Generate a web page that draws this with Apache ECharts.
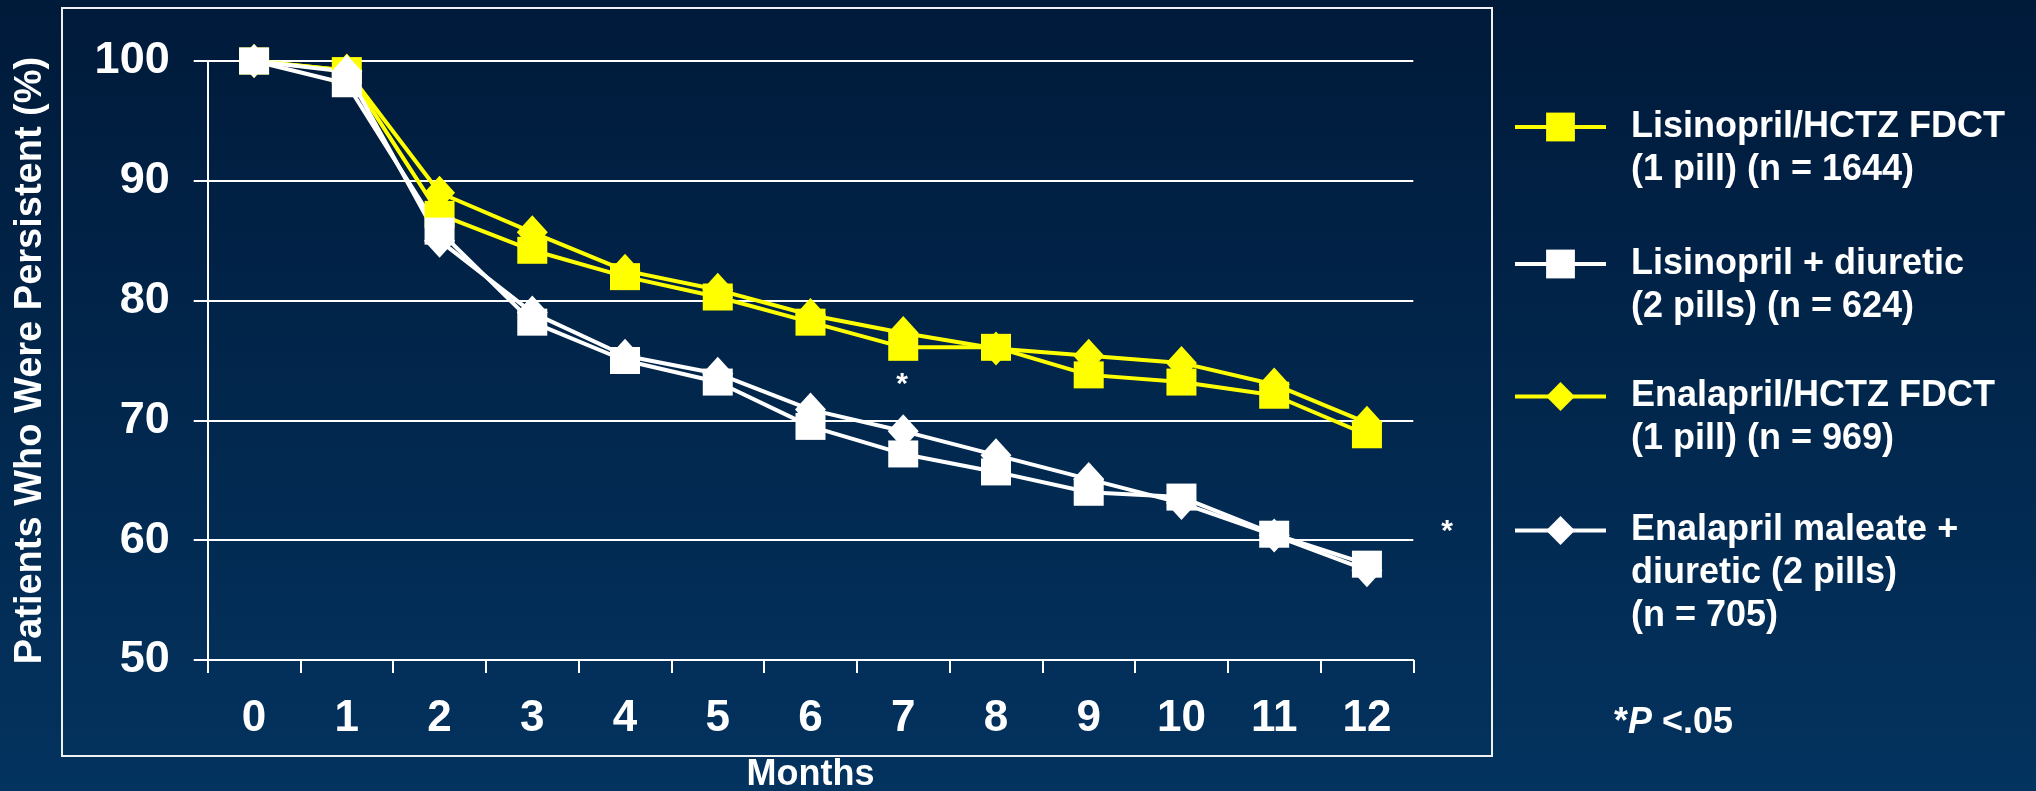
<!DOCTYPE html>
<html>
<head>
<meta charset="utf-8">
<title>Persistence</title>
<script src="https://cdn.jsdelivr.net/npm/echarts@6/dist/echarts.min.js"></script>
<style>
	html, body { margin: 0; padding: 0; }
	#chart { width: 2036px; height: 791px; }
</style>
</head>
<body>
<div id="chart"></div>
<script>
	// data
	const months = ['0', '1', '2', '3', '4', '5', '6', '7', '8', '9', '10', '11', '12'];
	const yTicks = [50, 100, 10]; // min, max, step
	const lisinoprilFdct = [100, 99.2, 87.2, 84.2, 82.0, 80.3, 78.2, 76.1, 76.1, 73.8, 73.2, 72.1, 68.8];
	const lisinoprilDiuretic = [100, 98.1, 85.8, 78.2, 75.0, 73.2, 69.5, 67.2, 65.7, 64.0, 63.6, 60.5, 58.0];
	const enalaprilFdct = [100, 99.2, 89.0, 85.7, 82.5, 80.9, 78.8, 77.3, 76.0, 75.4, 74.8, 73.0, 69.8];
	const enalaprilDiuretic = [100, 99.1, 85.0, 79.0, 75.4, 73.9, 70.9, 69.1, 67.1, 65.1, 63.1, 60.4, 57.5];
	const names = [
		'Lisinopril/HCTZ FDCT\n(1 pill) (n = 1644)',
		'Lisinopril + diuretic\n(2 pills) (n = 624)',
		'Enalapril/HCTZ FDCT\n(1 pill) (n = 969)',
		'Enalapril maleate +\ndiuretic (2 pills)\n(n = 705)'
	];

	const font = "'Liberation Sans', Arial, sans-serif";
	const YELLOW = '#ffff00';
	const WHITE = '#ffffff';

	function lineSeries(name, data, color, symbol, size) {
		return {
			name: name,
			type: 'line',
			data: data,
			symbol: symbol,
			symbolSize: size,
			showAllSymbol: true,
			lineStyle: { color: color, width: 4 },
			itemStyle: { color: color },
			emphasis: { disabled: true }
		};
	}

	// one legend per item; blank lines on top keep the icon level with the first text line
	function legendItem(name, top) {
		return {
			data: [name],
			left: 1513,
			top: top,
			padding: 0,
			itemWidth: 91,
			itemHeight: 36,
			selectedMode: false,
			lineStyle: { width: 4 },
			formatter: function (n) {
				let lines = n.split('\n').length;
				return ' \n'.repeat(lines - 1) + n;
			},
			textStyle: {
				color: WHITE,
				fontSize: 36,
				fontWeight: 'bold',
				fontFamily: font,
				lineHeight: 43,
				padding: [0, 0, 0, 20]
			}
		};
	}

	const chart = echarts.init(document.getElementById('chart'));
	const option = {
		animation: false,
		backgroundColor: {
			type: 'linear', x: 0, y: 0, x2: 0, y2: 1,
			colorStops: [{ offset: 0, color: '#001a3a' }, { offset: 1, color: '#03335f' }]
		},
		grid: {
			left: 207.7,
			right: 2036 - 1413.3,
			top: 61,
			bottom: 791 - 660,
			containLabel: false,
			outerBoundsMode: 'none'
		},
		legend: [
			legendItem(names[0], 62.5),
			legendItem(names[1], 199.5),
			legendItem(names[2], 332),
			legendItem(names[3], 423)
		],
		xAxis: {
			type: 'category',
			data: months,
			boundaryGap: true,
			name: 'Months',
			nameLocation: 'middle',
			nameGap: 97,
			nameTextStyle: { color: WHITE, fontSize: 36, fontWeight: 'bold', fontFamily: font },
			axisLine: { show: true, lineStyle: { color: WHITE, width: 2 } },
			axisTick: { show: true, length: 13, interval: 0, lineStyle: { color: WHITE, width: 2 } },
			axisLabel: { interval: 0, margin: 37, color: WHITE, fontSize: 44, fontWeight: 'bold', fontFamily: font },
			splitLine: { show: false }
		},
		yAxis: {
			type: 'value',
			min: yTicks[0],
			max: yTicks[1],
			interval: yTicks[2],
			name: 'Patients Who Were Persistent (%)',
			nameLocation: 'middle',
			nameGap: 158,
			nameTextStyle: { color: WHITE, fontSize: 38, fontWeight: 'bold', fontFamily: font },
			axisLine: { show: true, lineStyle: { color: WHITE, width: 2 } },
			axisTick: { show: true, length: 14, lineStyle: { color: WHITE, width: 2 } },
			axisLabel: { margin: 38, color: WHITE, fontSize: 45, fontWeight: 'bold', fontFamily: font },
			splitLine: { show: true, lineStyle: { color: WHITE, width: 2 } }
		},
		series: [
			lineSeries(names[0], lisinoprilFdct, YELLOW, 'rect', [30, 27]),
			lineSeries(names[2], enalaprilFdct, YELLOW, 'diamond', [31, 34]),
			lineSeries(names[1], lisinoprilDiuretic, WHITE, 'rect', [30, 27]),
			lineSeries(names[3], enalaprilDiuretic, WHITE, 'diamond', [31, 34])
		],
		graphic: [
			{
				// slide frame around the plot
				type: 'rect',
				z: -1,
				shape: { x: 62, y: 8, width: 1430, height: 748 },
				style: { fill: 'none', stroke: '#f0f0f0', lineWidth: 2 }
			},
			{
				type: 'text', x: 902, y: 385,
				style: { text: '*', fill: WHITE, font: 'bold 30px ' + font, textAlign: 'center', textVerticalAlign: 'middle' }
			},
			{
				type: 'text', x: 1447, y: 532,
				style: { text: '*', fill: WHITE, font: 'bold 30px ' + font, textAlign: 'center', textVerticalAlign: 'middle' }
			},
			{
				type: 'text', x: 1614, y: 723,
				style: {
					text: '{a|*}{b|P}{a| <.05}',
					textVerticalAlign: 'middle',
					rich: {
						a: { fill: WHITE, fontSize: 36, fontWeight: 'bold', fontFamily: font },
						b: { fill: WHITE, fontSize: 36, fontWeight: 'bold', fontStyle: 'italic', fontFamily: font }
					}
				}
			}
		]
	};
	chart.setOption(option);
</script>
</body>
</html>
